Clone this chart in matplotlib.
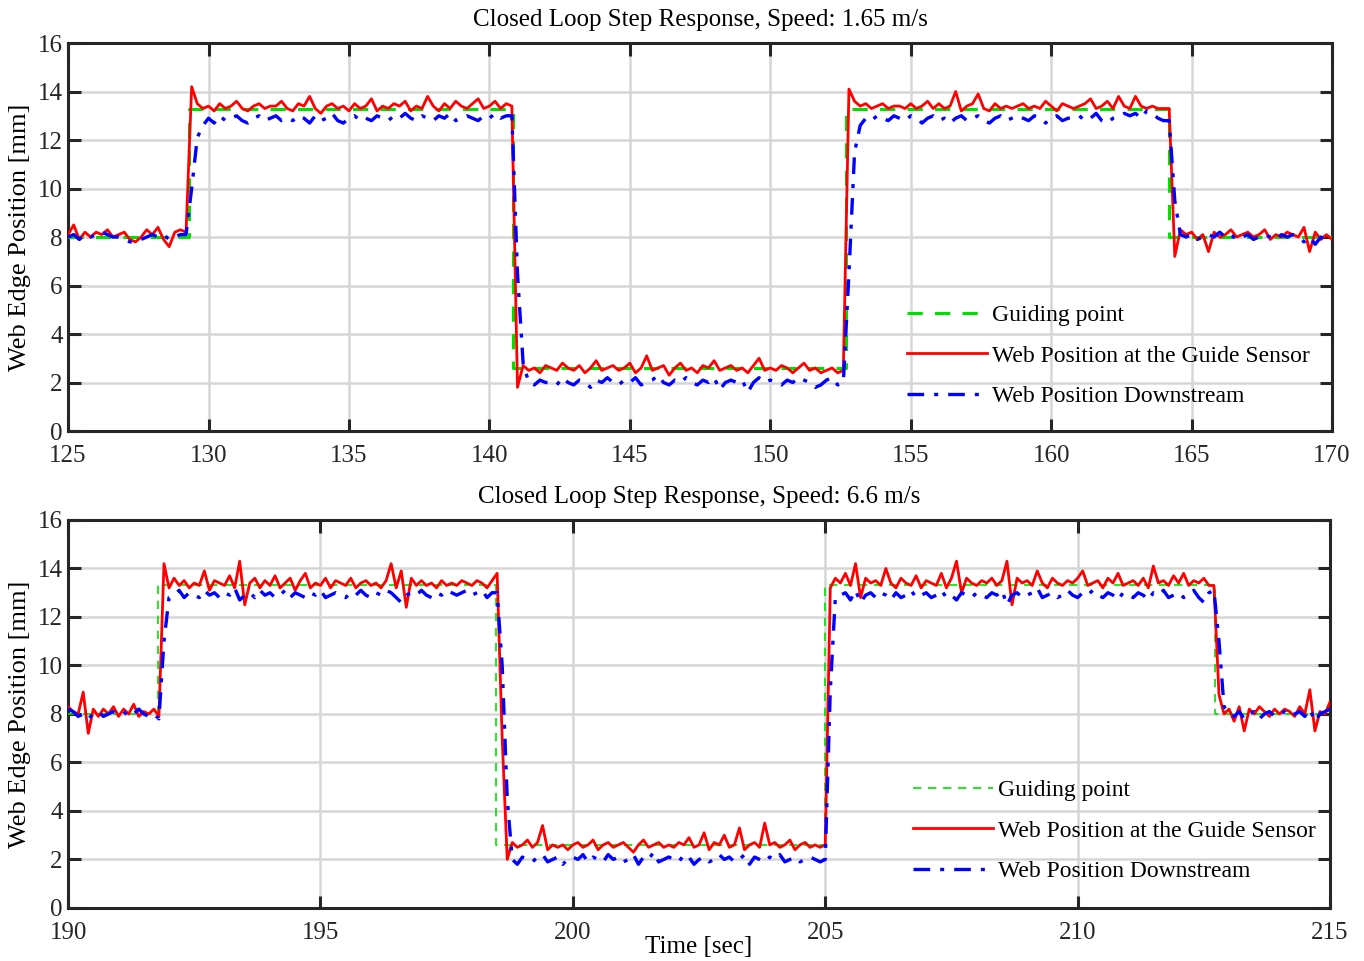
import matplotlib
matplotlib.use("Agg")
import matplotlib.pyplot as plt
import numpy as np

plt.rcParams['font.family'] = ['Liberation Serif', 'DejaVu Serif']

# ---------------- top panel: speed 1.65 m/s, samples every 0.2 s from 125 s ----------------
TOP_T0, TOP_DT = 125.0, 0.2
top_red = [
    8.1, 8.5, 7.9, 8.2, 8.0, 8.2, 8.1, 8.3, 8.0, 8.1,
    8.2, 7.9, 7.8, 8.0, 8.3, 8.1, 8.4, 7.9, 7.6, 8.2,
    8.3, 8.2, 14.2, 13.5, 13.3, 13.4, 13.2, 13.5, 13.3, 13.4,
    13.6, 13.3, 13.2, 13.4, 13.5, 13.3, 13.4, 13.4, 13.6, 13.3,
    13.2, 13.5, 13.4, 13.8, 13.3, 13.1, 13.4, 13.5, 13.3, 13.4,
    13.2, 13.5, 13.3, 13.4, 13.7, 13.2, 13.4, 13.3, 13.5, 13.4,
    13.6, 13.2, 13.4, 13.3, 13.8, 13.4, 13.2, 13.5, 13.3, 13.6,
    13.4, 13.3, 13.5, 13.7, 13.3, 13.4, 13.6, 13.3, 13.5, 13.4,
    1.8, 2.7, 2.5, 2.6, 2.4, 2.7, 2.6, 2.5, 2.8, 2.6,
    2.5, 2.7, 2.4, 2.6, 2.9, 2.5, 2.6, 2.7, 2.5, 2.6,
    2.8, 2.4, 2.6, 3.1, 2.5, 2.6, 2.7, 2.3, 2.6, 2.8,
    2.5, 2.6, 2.4, 2.7, 2.6, 2.9, 2.5, 2.6, 2.7, 2.5,
    2.6, 2.4, 2.7, 3.0, 2.5, 2.6, 2.5, 2.7, 2.6, 2.4,
    2.6, 2.8, 2.5, 2.6, 2.4, 2.5, 2.6, 2.4, 2.5, 14.1,
    13.6, 13.4, 13.5, 13.3, 13.4, 13.5, 13.3, 13.4, 13.4, 13.3,
    13.5, 13.3, 13.4, 13.6, 13.3, 13.5, 13.3, 13.4, 14.0, 13.2,
    13.4, 13.5, 13.9, 13.3, 13.2, 13.5, 13.3, 13.4, 13.3, 13.4,
    13.5, 13.3, 13.4, 13.3, 13.6, 13.4, 13.2, 13.5, 13.4, 13.3,
    13.4, 13.5, 13.7, 13.3, 13.4, 13.6, 13.3, 13.8, 13.4, 13.3,
    13.8, 13.4, 13.3, 13.4, 13.3, 13.3, 13.3, 7.2, 8.3, 8.1,
    8.2, 7.9, 8.1, 7.4, 8.2, 8.0, 8.1, 8.3, 8.0, 8.1,
    8.2, 8.0, 8.1, 8.3, 7.9, 8.1, 8.0, 8.2, 8.1, 8.0,
    8.4, 7.4, 8.2, 7.9, 8.1, 7.9,
]
top_blue = [
    8.0, 8.1, 7.9, 8.1, 8.0, 8.1, 8.2, 8.1, 8.0, 8.0,
    7.9, 7.8, 7.8, 7.9, 8.0, 8.1, 8.0, 8.1, 7.9, 8.0,
    8.1, 8.1, 10.0, 12.1, 12.6, 12.9, 12.7, 13.0, 12.8, 12.9,
    13.0, 12.8, 12.7, 12.9, 13.0, 12.8, 12.9, 13.0, 12.8, 12.9,
    12.8, 13.0, 12.9, 12.7, 13.0, 12.8, 12.9, 13.1, 12.8, 12.7,
    12.9, 13.0, 12.8, 12.9, 12.8, 13.0, 12.9, 12.8, 13.0, 12.9,
    13.1, 12.9, 12.8, 13.0, 12.9, 12.8, 13.0, 12.9, 13.1, 12.8,
    12.9, 13.0, 12.9, 12.8, 13.0, 12.9, 13.1, 12.9, 13.0, 13.0,
    6.5, 2.8, 2.0, 1.9, 2.1, 2.0, 2.0, 1.9, 2.2, 2.0,
    1.9, 2.1, 2.0, 1.8, 2.1, 2.0, 2.2, 2.0, 1.9, 2.1,
    2.0, 2.2, 1.9, 2.0, 2.1, 2.3, 2.0, 1.9, 2.1, 2.0,
    2.2, 2.0, 1.9, 2.1, 2.0, 2.2, 1.7, 2.0, 2.1, 2.0,
    2.1, 1.6, 2.0, 2.2, 2.0, 2.1, 2.0, 1.9, 2.1, 2.0,
    2.2, 2.1, 2.0, 1.8, 1.9, 2.1, 2.2, 1.9, 2.0, 6.5,
    11.5, 12.6, 12.9, 12.8, 13.0, 12.9, 12.8, 13.0, 12.9, 12.8,
    13.0, 12.9, 12.7, 12.9, 13.0, 12.8, 12.9, 12.7, 12.9, 13.0,
    12.8, 12.9, 13.0, 12.8, 12.7, 12.9, 13.0, 12.8, 12.9, 13.0,
    12.9, 12.8, 13.0, 12.9, 12.7, 12.9, 13.0, 12.8, 12.9, 12.9,
    13.0, 12.8, 12.9, 13.1, 12.8, 12.7, 12.9, 13.0, 13.1, 13.0,
    13.1, 12.9, 13.2, 13.1, 12.9, 12.8, 12.8, 9.5, 8.1, 8.0,
    8.1, 7.9, 8.0, 8.1, 8.0, 8.2, 8.0, 8.1, 7.9, 8.0,
    8.1, 7.9, 8.0, 8.1, 8.0, 7.9, 8.1, 8.0, 8.1, 8.0,
    7.8, 8.0, 7.7, 8.0, 7.9, 8.0,
]
top_guide_t = [125.0, 129.3, 140.85, 152.68, 164.18, 170.0]
top_guide_y = [8.0, 13.3, 2.6, 13.3, 8.0, 8.0]

# ---------------- bottom panel: speed 6.6 m/s, samples every 0.1 s from 190 s ----------------
BOT_T0, BOT_DT = 190.0, 0.1
bot_red = [
    8.3, 8.1, 8.0, 8.9, 7.2, 8.2, 7.9, 8.2, 8.0, 8.3,
    7.9, 8.2, 8.0, 8.4, 7.9, 8.1, 8.0, 8.2, 7.9, 14.2,
    13.2, 13.6, 13.3, 13.5, 13.2, 13.4, 13.3, 13.9, 13.1, 13.5,
    13.4, 13.3, 13.7, 13.2, 14.3, 12.5, 13.4, 13.6, 13.2, 13.5,
    13.3, 13.7, 13.2, 13.4, 13.6, 13.1, 13.5, 13.8, 13.2, 13.4,
    13.3, 13.6, 13.2, 13.5, 13.4, 13.3, 13.6, 13.2, 13.4, 13.5,
    13.3, 13.4, 13.2, 13.5, 14.2, 13.2, 13.9, 12.4, 13.6, 13.3,
    13.5, 13.3, 13.4, 13.2, 13.5, 13.3, 13.4, 13.3, 13.5, 13.4,
    13.3, 13.5, 13.4, 13.2, 13.5, 13.8, 7.0, 2.0, 2.7, 2.5,
    2.6, 2.8, 2.5, 2.7, 3.4, 2.4, 2.6, 2.5, 2.6, 2.4,
    2.6, 2.7, 2.5, 2.6, 2.8, 2.4, 2.6, 2.7, 2.5, 2.6,
    2.7, 2.5, 2.3, 2.6, 2.8, 2.5, 2.6, 2.7, 2.5, 2.6,
    2.5, 2.7, 2.6, 2.9, 2.5, 2.6, 3.1, 2.4, 2.7, 2.6,
    3.0, 2.5, 2.6, 3.3, 2.4, 2.6, 2.7, 2.5, 3.5, 2.6,
    2.7, 2.5, 2.6, 2.8, 2.4, 2.6, 2.7, 2.5, 2.6, 2.5,
    2.6, 13.2, 13.6, 13.4, 13.8, 13.3, 14.2, 12.8, 13.6, 13.4,
    13.5, 13.3, 14.0, 13.4, 13.2, 13.6, 13.4, 13.3, 13.7, 13.2,
    13.5, 13.4, 13.3, 13.8, 13.2, 13.6, 14.3, 13.0, 13.6, 13.4,
    13.3, 13.5, 13.4, 13.6, 13.3, 13.5, 14.3, 12.5, 13.6, 13.4,
    13.5, 13.3, 13.9, 13.4, 13.2, 13.6, 13.4, 13.3, 13.5, 13.4,
    13.6, 13.9, 13.3, 13.4, 13.5, 13.2, 13.6, 13.4, 13.8, 13.3,
    13.4, 13.5, 13.3, 13.6, 13.2, 14.1, 13.4, 13.5, 13.3, 13.7,
    13.4, 13.8, 13.3, 13.5, 13.4, 13.6, 13.3, 13.3, 8.8, 8.0,
    8.2, 7.7, 8.3, 7.3, 8.2, 8.0, 8.3, 8.1, 7.9, 8.2,
    8.0, 8.2, 8.1, 7.9, 8.3, 8.0, 9.0, 7.3, 8.1, 8.0,
    8.5,
]
bot_blue = [
    8.2, 8.1, 7.9, 8.0, 7.8, 8.0, 8.1, 7.9, 8.0, 8.1,
    8.0, 8.1, 7.9, 8.0, 8.2, 8.0, 7.9, 8.0, 7.8, 11.0,
    12.8, 12.9, 13.1, 12.8, 13.0, 12.9, 12.8, 13.1, 12.9, 13.0,
    12.8, 13.0, 12.9, 13.2, 12.7, 12.9, 13.0, 12.8, 13.1, 12.9,
    13.0, 12.8, 12.9, 13.1, 12.8, 13.0, 12.9, 12.8, 13.0, 12.9,
    13.1, 12.8, 12.9, 13.0, 12.9, 12.8, 13.0, 12.9, 13.1, 12.9,
    12.8, 13.0, 12.9, 13.1, 13.0, 12.8, 12.6, 12.9, 13.0, 12.9,
    13.1, 12.9, 12.8, 13.0, 12.9, 13.1, 13.0, 12.9, 13.0, 13.1,
    12.9, 13.0, 13.1, 12.8, 13.0, 13.0, 10.0, 4.5, 2.0, 1.8,
    2.1, 2.0, 1.9, 2.1, 2.2, 1.9, 2.0, 2.1, 1.8, 2.0,
    2.1, 2.0, 2.2, 1.9, 2.1, 2.0, 1.9, 2.2, 2.0, 2.1,
    1.9, 2.0, 2.2, 1.8, 2.1, 2.0, 2.3, 1.9, 2.0, 2.1,
    2.0, 1.9, 2.2, 2.1, 1.8, 2.0, 2.1, 1.9, 2.0, 2.2,
    2.0, 2.1, 1.9, 2.0, 2.2, 1.8, 2.1, 2.0, 1.9, 2.1,
    2.0, 2.2, 1.9, 2.0, 2.1, 1.9, 2.0, 2.1, 2.0, 1.9,
    2.0, 9.0, 12.8, 12.9, 13.0, 12.7, 13.1, 12.6, 12.9, 13.0,
    12.8, 13.0, 12.9, 12.7, 13.0, 12.8, 12.9, 13.1, 12.8, 12.9,
    13.0, 12.8, 12.9, 13.1, 12.8, 12.9, 12.7, 13.0, 12.9, 12.8,
    13.0, 12.9, 12.8, 13.0, 12.9, 13.1, 12.5, 12.9, 13.0, 12.8,
    12.9, 13.0, 13.2, 12.8, 12.9, 13.0, 12.8, 12.9, 13.1, 12.9,
    12.8, 13.0, 12.9, 13.1, 12.9, 12.8, 13.0, 12.9, 12.7, 13.0,
    12.9, 12.8, 13.0, 12.9, 12.7, 13.0, 12.9, 13.1, 12.8, 12.9,
    13.0, 12.8, 12.9, 13.1, 12.8, 12.6, 13.0, 13.1, 11.0, 8.3,
    8.0, 7.9, 8.1, 7.8, 8.0, 8.1, 7.8, 8.0, 8.1, 7.9,
    8.0, 8.1, 7.9, 8.0, 8.1, 7.9, 8.2, 7.7, 8.0, 8.1,
    8.2,
]
bot_guide_t = [190.0, 191.78, 198.48, 204.99, 212.72, 215.0]
bot_guide_y = [8.0, 13.3, 2.6, 13.3, 8.0, 8.0]

LABELS = ["Guiding point", "Web Position at the Guide Sensor", "Web Position Downstream"]
FS = 18


def draw_panel(ax, t0, dt, red, blue, g_t, g_y, xlim, xticks, title, green_lw, leg_x, leg_y):
    t_red = t0 + dt * np.arange(len(red))
    t_blue = t0 + dt * np.arange(len(blue))
    ax.plot(g_t, g_y, drawstyle='steps-post', color='#00e000', linestyle=(0, (5, 4)),
            linewidth=green_lw, label=LABELS[0], zorder=3)
    ax.plot(t_red, red, color='#ff0000', linewidth=2.0, label=LABELS[1], zorder=4)
    ax.plot(t_blue, blue, color='#0000ff', linestyle=(0, (5, 3, 1.2, 3)),
            linewidth=2.4, label=LABELS[2], zorder=5)

    ax.set_xlim(*xlim)
    ax.set_ylim(0, 16)
    ax.set_xticks(xticks)
    ax.set_yticks(np.arange(0, 17, 2))
    ax.grid(True, color='#d6d6d6', linewidth=1.8)
    ax.set_axisbelow(True)
    ax.tick_params(direction='in', length=9, width=2.2, top=True, right=True,
                   labelsize=FS, colors='#262626')
    ax.tick_params(axis='x', pad=10)
    ax.tick_params(axis='y', pad=4)
    for s in ax.spines.values():
        s.set_linewidth(2.2)
        s.set_color('#262626')
    ax.set_title(title, fontsize=FS, pad=12)
    ax.set_ylabel("Web Edge Position [mm]", fontsize=19, labelpad=5)
    ax.legend(loc='upper left', bbox_to_anchor=(leg_x, leg_y), frameon=False,
              fontsize=17, handlelength=3.4, handletextpad=0.2, labelspacing=0.8,
              borderaxespad=0)


fig = plt.figure(figsize=(13.64, 9.61), dpi=100)
ax1 = fig.add_axes([0.0499, 0.5515, 0.9267, 0.4037])
ax2 = fig.add_axes([0.0499, 0.0552, 0.9252, 0.4037])

draw_panel(ax1, TOP_T0, TOP_DT, top_red, top_blue, top_guide_t, top_guide_y,
           (125, 170), np.arange(125, 171, 5), "Closed Loop Step Response, Speed: 1.65 m/s",
           2.2, 0.656, 0.35)
draw_panel(ax2, BOT_T0, BOT_DT, bot_red, bot_blue, bot_guide_t, bot_guide_y,
           (190, 215), np.arange(190, 216, 5), "Closed Loop Step Response, Speed: 6.6 m/s",
           1.2, 0.662, 0.355)
ax2.set_xlabel("Time [sec]", fontsize=FS, labelpad=-6)

fig.savefig("out.png", dpi=100)
